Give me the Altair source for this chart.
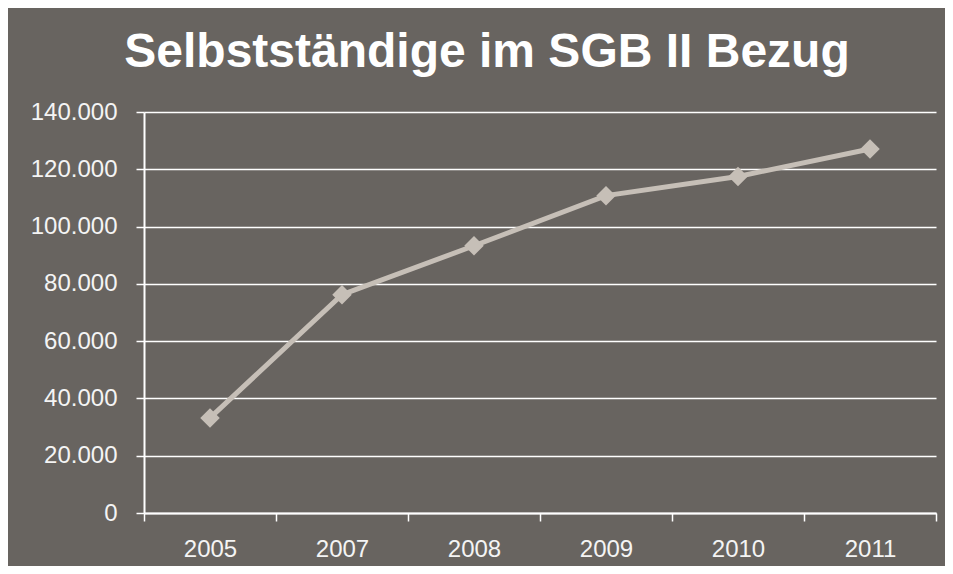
import altair as alt
import pandas as pd

years = ["2005", "2007", "2008", "2009", "2010", "2011"]
values = [33200, 76200, 93300, 110800, 117500, 127100]

title_text = "Selbstständige im SGB II Bezug"
bg = "#686460"
line_color = "#C6BFB7"

df = pd.DataFrame({"Jahr": years, "Anzahl": values})

x_enc = alt.X(
    "Jahr:O",
    sort=years,
    bandPosition=0.5,
    scale=alt.Scale(type="band", paddingInner=0, paddingOuter=0),
    axis=alt.Axis(
        title=None, labelAngle=0, tickBand="extent", grid=False,
        domainColor="white", domainWidth=2, tickColor="white", tickWidth=1.5,
        tickSize=8, labelPadding=16, labelFontSize=24, labelColor="#F4F4F4",
        labelFont="Liberation Sans",
    ),
)
y_enc = alt.Y(
    "Anzahl:Q",
    scale=alt.Scale(domain=[0, 140000], nice=False),
    axis=alt.Axis(
        title=None, values=[0, 20000, 40000, 60000, 80000, 100000, 120000, 140000],
        labelExpr="replace(format(datum.value, ','), ',', '.')",
        grid=True, gridColor="white", gridWidth=1.5, gridOpacity=1,
        domainColor="white", domainWidth=2, tickColor="white", tickWidth=1.5,
        tickSize=8, labelPadding=19, labelFontSize=24, labelColor="#F4F4F4",
        labelFont="Liberation Sans",
    ),
)

base = alt.Chart(df).encode(x=x_enc, y=y_enc)
line = base.mark_line(color=line_color, strokeWidth=5)
pts = base.mark_point(shape="diamond", filled=True, size=380, color=line_color, opacity=1)

chart = (
    alt.layer(line, pts)
    .properties(
        width=792,
        height=401,
        padding={"left": 136, "top": 104, "right": 9, "bottom": 53},
        autosize=alt.AutoSizeParams(type="none"),
        background=bg,
        title=alt.Title(
            title_text, font="Liberation Sans", fontSize=48, fontWeight="bold",
            color="white", anchor="middle", dx=-53, offset=23,
        ),
    )
    .configure_view(stroke=None)
)

chart.save("out.html", embed_options={"renderer": "svg", "actions": False})
